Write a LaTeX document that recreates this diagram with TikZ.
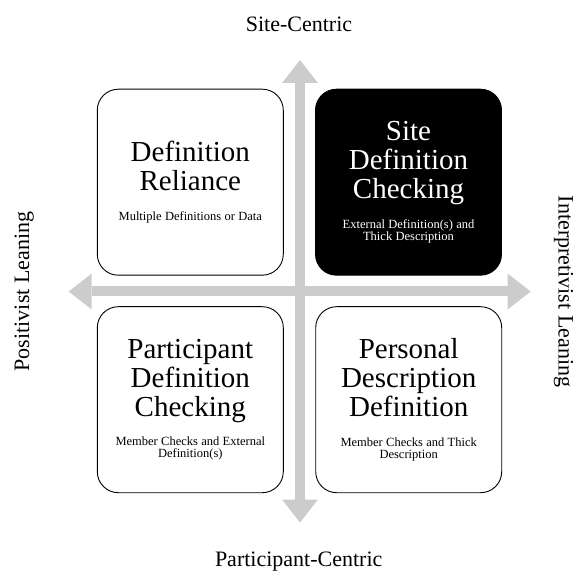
\documentclass[tikz,border=0pt]{standalone}
\usepackage{fontspec}
\setmainfont{Liberation Serif}
\usetikzlibrary{arrows.meta}
\definecolor{axisgray}{RGB}{204,204,204}
\newcommand{\quadtitle}{\fontsize{29}{29}\selectfont\lineskiplimit=-50pt\relax}
\newcommand{\quadnote}{\fontsize{12.5}{11}\selectfont\lineskiplimit=-50pt\relax}

\begin{document}
\begin{tikzpicture}[x=1pt,y=1pt,
	quad/.style={draw=black,line width=0.9pt,rounded corners=21pt,minimum width=186pt,minimum height=186pt,
		text width=178pt,align=center,inner sep=0pt,fill=white},
	axis/.style={draw=axisgray,line width=10pt,
		{Triangle[width=36pt,length=23pt,line width=0pt]}-{Triangle[width=36pt,length=23pt,line width=0pt]}},
	axlabel/.style={font=\fontsize{22}{26}\selectfont,anchor=base}]
\useasboundingbox (0,0) rectangle (576,571);
% the two axes
\coordinate (north) at (300,511);
\coordinate (south) at (300,48.5);
\coordinate (west) at (68.7,279.5);
\coordinate (east) at (530.7,279.5);
\path[axis] (west) -- (east);
\path[axis] (south) -- (north);
% the four quadrants
\path (190.3,388.8) node[quad] (reliance) {\quadtitle Definition\\Reliance\par\vspace{18.5pt}\quadnote Multiple Definitions or Data};
\path (408.5,388.8) node[quad,fill=black,text=white] (sitecheck) {\quadtitle Site\\Definition\\Checking\par\vspace{18.5pt}\quadnote External Definition(s) and\\Thick Description};
\path (190.3,171.3) node[quad] (partcheck) {\quadtitle Participant\\Definition\\Checking\par\vspace{18.5pt}\quadnote Member Checks and External\\Definition(s)};
\path (408.7,171.3) node[quad] (personal) {\quadtitle Personal\\Description\\Definition\par\vspace{18.5pt}\quadnote Member Checks and Thick\\Description};
% axis labels
\path (299,539) node[axlabel] (sitelbl) {Site-Centric};
\path (298.7,5) node[axlabel] (partlbl) {Participant-Centric};
\path (29,279.5) node[axlabel,rotate=90] (poslbl) {Positivist Leaning};
\path (558.5,279.5) node[axlabel,rotate=-90] (intlbl) {Interpretivist Leaning};
\end{tikzpicture}
\end{document}
